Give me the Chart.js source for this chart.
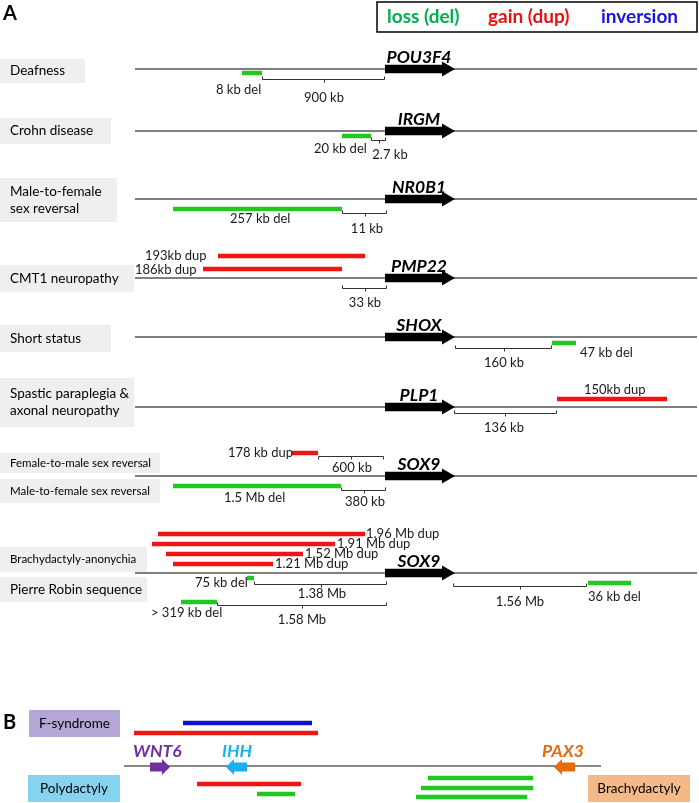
<!DOCTYPE html>
<html>
<head>
<meta charset="utf-8">
<script src="https://cdn.jsdelivr.net/npm/chart.js@4.4.1/dist/chart.umd.min.js"></script>
<style>
  html, body { margin: 0; padding: 0; background: #fff; }
  #wrap { width: 699px; height: 803px; }
</style>
</head>
<body>
<div id="wrap"><canvas id="fig" width="699" height="803"></canvas></div>
<script>
// ---- panel A: tracks ----
const trackY = [69, 131, 199, 278, 337, 407, 476, 573];
const trackFrom = 135;
const trackTo = 697;
const geneNames = ['POU3F4', 'IRGM', 'NR0B1', 'PMP22', 'SHOX', 'PLP1', 'SOX9', 'SOX9'];
const geneFrom = 385;
const geneTo = 455;

// disease labels (grey boxes)
const diseaseLines = [['Deafness'], ['Crohn disease'], ['Male-to-female', 'sex reversal'], ['CMT1 neuropathy'],
  ['Short status'], ['Spastic paraplegia &', 'axonal neuropathy'], ['Female-to-male sex reversal'],
  ['Male-to-female sex reversal'], ['Brachydactyly-anonychia'], ['Pierre Robin sequence']];
const diseaseTop = [59, 118, 178, 265, 325, 378, 453, 479, 547, 577];
const diseaseBottom = [83, 144, 222, 292, 352, 427, 473, 503, 572, 602];
const diseaseRight = [85, 111, 117, 134, 111, 134, 160, 160, 147, 147];
const diseaseSmall = [false, false, false, false, false, false, true, true, true, false];

// deletions
const delFrom = [242, 342, 173, 552, 173, 247, 588, 181];
const delTo = [262, 371, 342, 576, 341, 254, 631, 217];
const delY = [73, 136, 209, 343, 486, 578, 583, 602];
// duplications
const dupFrom = [218, 203, 557, 292, 158, 152, 166, 173];
const dupTo = [365, 342, 667, 318, 365, 335, 303, 273];
const dupY = [256, 269, 399, 453, 534, 544, 554, 564];

// CNV labels
const cnvText = ['8 kb del', '20 kb del', '257 kb del', '193kb dup', '186kb dup', '47 kb del', '150kb dup',
  '178 kb dup', '1.5 Mb del', '1.96 Mb dup', '1.91 Mb dup', '1.52 Mb dup', '1.21 Mb dup', '75 kb del',
  '36 kb del', '> 319 kb del'];
const cnvTextX = [216, 314, 230, 145, 135, 580, 584, 228, 224, 366, 337, 305, 275, 195, 588, 151];
const cnvTextY = [90, 149, 219, 256, 270, 353, 390, 453, 498, 534, 544, 554, 564, 583, 597, 613];

// distance brackets
const brFrom = [262, 371, 342, 342, 455, 454, 318, 341, 254, 453, 217];
const brTo = [385, 386, 387, 387, 552, 557, 384, 386, 387, 587, 387];
const brY = [79, 140, 213, 288, 348, 413, 456, 490, 584, 586, 605];
const brEnds = [-1, -1, -1, -1, -1, -1, 1, -1, -1, -1, -1];
const brText = ['900 kb', '2.7 kb', '11 kb', '33 kb', '160 kb', '136 kb', '600 kb', '380 kb', '1.38 Mb', '1.56 Mb', '1.58 Mb'];
const brTextX = [324, 390, 367, 365, 504, 504, 352, 365, 322, 520, 302];
const brTextY = [98, 155, 229, 303, 363, 428, 468, 502, 594, 602, 620];

// ---- panel B ----
const bTrackY = 766;
const bTrackFrom = 124;
const bTrackTo = 601;
const bGenes = ['WNT6', 'IHH', 'PAX3'];
const bGeneTail = [150, 247, 575];
const bGeneTip = [170, 226, 554];
const bGeneTextX = [133, 222, 542];
const bGeneColors = ['#7030a0', '#1ab0ee', '#e46c0a'];
const bBarFrom = [183, 134, 197, 257, 428, 421, 416];
const bBarTo = [312, 318, 301, 295, 533, 533, 527];
const bBarY = [723, 733, 784, 794, 778, 788, 797];
const bBarKind = ['inv', 'dup', 'dup', 'del', 'del', 'del', 'del'];
const bBoxText = ['F-syndrome', 'Polydactyly', 'Brachydactyly'];
const bBoxLeft = [29, 28, 588];
const bBoxRight = [120, 120, 690];
const bBoxTop = [710, 775, 775];
const bBoxBottom = [737, 802, 802];
const bBoxColors = ['#b4a7d6', '#86d3f0', '#f5b887'];

const GREEN = '#22c722';
const RED = '#ee1515';
const BLUE = '#1212cc';
const kindColor = { del: GREEN, dup: RED, inv: BLUE };
const FONT = 'Lato, "Open Sans", sans-serif';

// segment dataset helper
function seg(x1, x2, y, color, width) {
  return {
    data: [{ x: x1, y: y }, { x: x2, y: y }],
    showLine: true, borderColor: color, borderWidth: width,
    pointRadius: 0, borderCapStyle: 'butt', clip: false
  };
}

const datasets = [];
trackY.forEach(y => datasets.push(seg(trackFrom, trackTo, y, '#555', 1.3)));
datasets.push(seg(bTrackFrom, bTrackTo, bTrackY, '#888', 2));
delFrom.forEach((x, i) => datasets.push(seg(x, delTo[i], delY[i], GREEN, 4.5)));
dupFrom.forEach((x, i) => datasets.push(seg(x, dupTo[i], dupY[i], RED, 4.5)));
bBarFrom.forEach((x, i) => datasets.push(seg(x, bBarTo[i], bBarY[i], kindColor[bBarKind[i]], 4.5)));

// grey boxes, coloured boxes
const boxPlugin = {
  id: 'boxes',
  beforeDatasetsDraw(chart) {
    const { ctx, scales: { x, y } } = chart;
    ctx.save();
    ctx.fillStyle = '#efefef';
    diseaseTop.forEach((t, i) => {
      const x0 = x.getPixelForValue(0), x1 = x.getPixelForValue(diseaseRight[i]);
      const y0 = y.getPixelForValue(t), y1 = y.getPixelForValue(diseaseBottom[i]);
      ctx.fillRect(x0, y0, x1 - x0, y1 - y0);
    });
    bBoxText.forEach((t, i) => {
      const x0 = x.getPixelForValue(bBoxLeft[i]), x1 = x.getPixelForValue(bBoxRight[i]);
      const y0 = y.getPixelForValue(bBoxTop[i]), y1 = y.getPixelForValue(bBoxBottom[i]);
      ctx.fillStyle = bBoxColors[i];
      ctx.fillRect(x0, y0, x1 - x0, y1 - y0);
    });
    ctx.restore();
  }
};

function arrow(ctx, x, y, tail, tip, cy, bodyH, headH, headL, color) {
  const px = v => x.getPixelForValue(v);
  const py = v => y.getPixelForValue(v);
  const dir = tip > tail ? 1 : -1;
  const base = tip - dir * headL;
  ctx.beginPath();
  ctx.moveTo(px(tail), py(cy - bodyH / 2));
  ctx.lineTo(px(base), py(cy - bodyH / 2));
  ctx.lineTo(px(base), py(cy - headH / 2));
  ctx.lineTo(px(tip), py(cy));
  ctx.lineTo(px(base), py(cy + headH / 2));
  ctx.lineTo(px(base), py(cy + bodyH / 2));
  ctx.lineTo(px(tail), py(cy + bodyH / 2));
  ctx.closePath();
  ctx.fillStyle = color;
  ctx.fill();
}

const annoPlugin = {
  id: 'anno',
  afterDatasetsDraw(chart) {
    const { ctx, scales: { x, y } } = chart;
    const px = v => x.getPixelForValue(v);
    const py = v => y.getPixelForValue(v);
    ctx.save();

    // gene arrows panel A
    trackY.forEach((ty, i) => {
      arrow(ctx, x, y, geneFrom, geneTo, ty, 8.5, 15, 13, '#000');
      ctx.font = 'italic bold 17.5px ' + FONT;
      ctx.fillStyle = '#000';
      ctx.textAlign = 'center';
      ctx.textBaseline = 'alphabetic';
      ctx.fillText(geneNames[i], px(419), py(ty - 6));
    });

    // brackets
    ctx.strokeStyle = '#333';
    ctx.lineWidth = 1;
    brFrom.forEach((b, i) => {
      const yy = py(brY[i]) + 0.5;
      const e = brEnds[i] * 3;
      const mid = px((b + brTo[i]) / 2);
      ctx.beginPath();
      ctx.moveTo(px(b) + 0.5, yy + e);
      ctx.lineTo(px(b) + 0.5, yy);
      ctx.lineTo(px(brTo[i]) - 0.5, yy);
      ctx.lineTo(px(brTo[i]) - 0.5, yy + e);
      ctx.moveTo(Math.round(mid) + 0.5, yy);
      ctx.lineTo(Math.round(mid) + 0.5, yy + 3);
      ctx.stroke();
    });

    // labels
    ctx.fillStyle = '#1a1a1a';
    ctx.textBaseline = 'middle';
    ctx.font = '13px ' + FONT;
    ctx.textAlign = 'center';
    brText.forEach((t, i) => ctx.fillText(t, px(brTextX[i]), py(brTextY[i])));
    ctx.textAlign = 'left';
    cnvText.forEach((t, i) => ctx.fillText(t, px(cnvTextX[i]), py(cnvTextY[i])));

    // disease labels
    diseaseLines.forEach((lines, i) => {
      ctx.font = (diseaseSmall[i] ? '11.5px ' : '13.5px ') + FONT;
      ctx.fillStyle = '#000';
      const mid = (diseaseTop[i] + diseaseBottom[i]) / 2;
      const gap = 17;
      lines.forEach((l, k) => {
        const yy = mid + (k - (lines.length - 1) / 2) * gap;
        ctx.fillText(l, px(10), py(yy));
      });
    });

    // panel B
    bGenes.forEach((g, i) => {
      arrow(ctx, x, y, bGeneTail[i], bGeneTip[i], bTrackY + 1, 9, 16, 8, bGeneColors[i]);
      ctx.font = 'italic bold 17.5px ' + FONT;
      ctx.fillStyle = bGeneColors[i];
      ctx.textAlign = 'left';
      ctx.fillText(g, px(bGeneTextX[i]), py(751));
    });
    ctx.font = '13.5px ' + FONT;
    ctx.fillStyle = '#000';
    ctx.textAlign = 'center';
    bBoxText.forEach((t, i) => ctx.fillText(t, px((bBoxLeft[i] + bBoxRight[i]) / 2), py((bBoxTop[i] + bBoxBottom[i]) / 2)));

    // panel letters
    ctx.font = 'bold 20px ' + FONT;
    ctx.fillStyle = '#000';
    ctx.textAlign = 'left';
    ctx.fillText('A', px(3), py(14));
    ctx.fillText('B', px(3), py(723));

    // legend
    ctx.strokeStyle = '#000';
    ctx.lineWidth = 1.5;
    ctx.strokeRect(px(377), py(2), px(697) - px(377), py(32) - py(2));
    ctx.font = 'bold 19px ' + FONT;
    ctx.fillStyle = '#00b050';
    ctx.fillText('loss (del)', px(387), py(17));
    ctx.fillStyle = '#e81010';
    ctx.fillText('gain (dup)', px(488), py(17));
    ctx.fillStyle = '#1515e0';
    ctx.fillText('inversion', px(601), py(17));

    ctx.restore();
  }
};

new Chart(document.getElementById('fig'), {
  type: 'scatter',
  data: { datasets: datasets },
  options: {
    responsive: false,
    animation: false,
    devicePixelRatio: 1,
    events: [],
    layout: { padding: 0 },
    scales: {
      x: { type: 'linear', min: 0, max: 699, display: false },
      y: { type: 'linear', min: 0, max: 803, reverse: true, display: false }
    },
    plugins: { legend: { display: false }, tooltip: { enabled: false } }
  },
  plugins: [boxPlugin, annoPlugin]
});
</script>
</body>
</html>
